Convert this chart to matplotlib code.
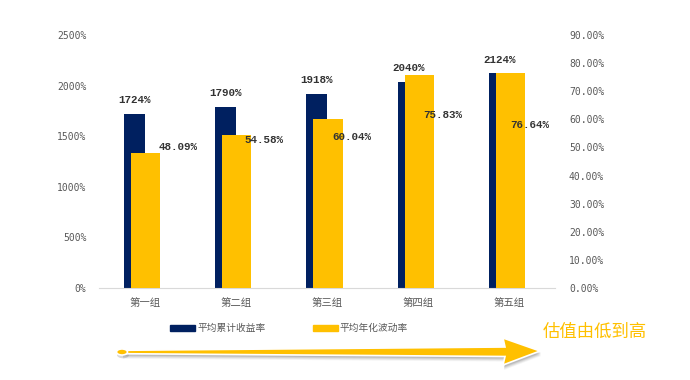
import matplotlib
matplotlib.use("Agg")
import matplotlib.pyplot as plt
from matplotlib.patches import Polygon, Circle, Rectangle
import numpy as np

plt.rcParams['font.family'] = ['Noto Sans CJK SC', 'DejaVu Sans']

categories = ['第一组', '第二组', '第三组', '第四组', '第五组']
cum_return = [1724, 1790, 1918, 2040, 2124]          # 平均累计收益率 (%)
volatility = [48.09, 54.58, 60.04, 75.83, 76.64]     # 平均年化波动率 (%)
series_names = ['平均累计收益率', '平均年化波动率']
left_ticks = [0, 500, 1000, 1500, 2000, 2500]
right_ticks = [0, 10, 20, 30, 40, 50, 60, 70, 80, 90]
note_text = '估值由低到高'

# label placement (styling): x offset from category center, y on secondary axis
vol_lbl_dx = [0.372, 0.306, 0.274, 0.272, 0.226]
vol_lbl_y = [50.3, 52.6, 53.7, 61.5, 58.0]

NAVY = '#002060'
GOLD = '#FFC000'
GRAY = '#595959'

W, H = 690, 380
fig = plt.figure(figsize=(6.9, 3.8), dpi=100)
ax = fig.add_axes([99 / W, 1 - 288 / H, (555 - 99) / W, (288 - 35) / H])
ax2 = ax.twinx()

x = np.arange(len(categories))
ax.bar(x - 0.11, cum_return, width=0.23, color=NAVY, zorder=2)
ax2.bar(x + 0.01, volatility, width=0.32, color=GOLD, zorder=2)

ax.set_xlim(-0.5, len(categories) - 0.5)
ax.set_ylim(0, 2500)
ax2.set_ylim(0, 90)
ax.set_yticks(left_ticks)
ax.set_yticklabels([f'{v}%' for v in left_ticks], family='DejaVu Sans Mono')
ax2.set_yticks(right_ticks)
ax2.set_yticklabels([f'{v:.2f}%' for v in right_ticks], family='DejaVu Sans Mono')
ax.set_xticks(x)
ax.set_xticklabels(categories)

for a in (ax, ax2):
    for s in a.spines.values():
        s.set_visible(False)
    a.tick_params(length=0, labelsize=7, colors=GRAY)
ax.spines['bottom'].set_visible(True)
ax.spines['bottom'].set_color('#D9D9D9')
ax.tick_params(axis='y', pad=9)
ax2.tick_params(axis='y', pad=10)
ax.tick_params(axis='x', pad=7, labelsize=7.5)

lblfont = dict(family='Liberation Mono', fontweight='bold', fontsize=7.8, color='#333333')
for i, v in enumerate(cum_return):
    ax.text(x[i] - 0.11, v + 133, f'{v}%', ha='center', va='center', zorder=5, **lblfont)
for i, v in enumerate(volatility):
    ax2.text(x[i] + vol_lbl_dx[i], vol_lbl_y[i], f'{v:.2f}%', ha='center', va='center',
             zorder=5, **lblfont)

def fx(px):
    return px / W

def fy(py):
    return 1 - py / H

# legend
fig.patches.append(Rectangle((fx(170), fy(331)), 25 / W, 6 / H, color=NAVY,
                             transform=fig.transFigure))
fig.text(fx(197), fy(328), series_names[0], fontsize=7, color=GRAY, va='center', ha='left')
fig.patches.append(Rectangle((fx(313), fy(331)), 25 / W, 6 / H, color=GOLD,
                             transform=fig.transFigure))
fig.text(fx(340), fy(328), series_names[1], fontsize=7, color=GRAY, va='center', ha='left')

# arrow
def arrow_pts(dx=0, dy=0):
    pts = [(122, 350.3), (505, 347), (503, 338), (540, 351), (503, 365), (505, 356.5), (122, 353.7)]
    return [(fx(p[0] + dx), fy(p[1] + dy)) for p in pts]

for k, al in [(5, 0.08), (4, 0.12), (3, 0.16), (2, 0.22)]:
    fig.patches.append(Polygon(arrow_pts(1, k), closed=True, facecolor='#707070',
                               edgecolor='none', alpha=al, transform=fig.transFigure))
fig.patches.append(Circle((fx(123), fy(355)), 6 / W, facecolor='#808080', edgecolor='none',
                          alpha=0.3, transform=fig.transFigure))
fig.patches.append(Polygon(arrow_pts(), closed=True, facecolor=GOLD, edgecolor='white',
                           linewidth=1.2, transform=fig.transFigure, joinstyle='miter'))
fig.patches.append(Circle((fx(122), fy(352)), 5.5 / W, facecolor=GOLD, edgecolor='white',
                          linewidth=1.2, transform=fig.transFigure))

fig.text(fx(543), fy(332), note_text, fontsize=12.5, color=GOLD, va='center', ha='left',
         fontweight='light')

fig.savefig('out.png', dpi=100)
